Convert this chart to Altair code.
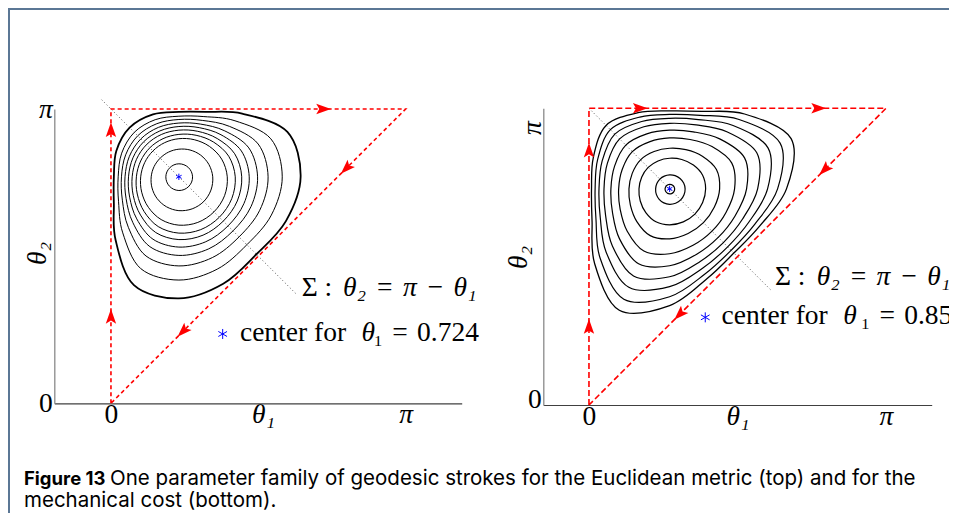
import math
import altair as alt
import pandas as pd

PI = math.pi

# Level curves are read as radii (radians) from the blue centre along 16 directions
# (0, 22.5, 45, ... 337.5 degrees, counter-clockwise from the +theta1 direction).
DIRS = [0, 22.5, 45, 67.5, 90, 112.5, 135, 157.5, 180, 202.5, 225, 247.5, 270, 292.5, 315, 337.5]

# ---------------- left panel (Euclidean metric) ----------------
L_center = (0.724, PI - 0.724)
L_c1 = [.146, .144, .142, .140, .139, .138, .137, .138, .139, .140, .142, .144, .146, .147, .147, .147]
L_c2 = [.361, .346, .328, .310, .295, .286, .282, .286, .295, .310, .328, .346, .361, .370, .374, .370]
L_c3 = [.516, .494, .460, .429, .407, .395, .391, .395, .407, .429, .460, .494, .516, .527, .529, .527]
L_c4 = [.601, .575, .524, .480, .453, .441, .438, .441, .453, .480, .524, .575, .601, .610, .610, .610]
L_c5 = [.670, .644, .578, .526, .498, .489, .487, .489, .498, .526, .578, .644, .670, .674, .669, .674]
L_c6 = [.750, .721, .635, .568, .537, .530, .530, .530, .537, .568, .635, .721, .750, .750, .741, .750]
L_c7 = [.839, .807, .693, .609, .574, .571, .573, .571, .574, .609, .693, .807, .839, .832, .816, .832]
L_c8 = [.951, .915, .762, .652, .612, .614, .620, .614, .612, .652, .762, .915, .951, .933, .907, .933]
L_c9 = [1.102, 1.061, .846, .696, .647, .660, .672, .660, .647, .696, .846, 1.061, 1.102, 1.067, 1.025, 1.067]
L_c10 = [1.298, 1.252, .954, .750, .693, .722, .743, .722, .693, .750, .954, 1.252, 1.298, 1.235, 1.169, 1.235]

# ---------------- right panel (mechanical cost) ----------------
R_center = (0.853, PI - 0.853)
R_c1 = [.053, .052, .050, .049, .048, .047, .047, .047, .048, .049, .050, .052, .053, .054, .054, .054]
R_c2 = [.164, .161, .156, .152, .148, .146, .146, .146, .148, .152, .156, .161, .164, .165, .166, .165]
R_c3 = [.381, .378, .356, .336, .324, .320, .321, .320, .324, .336, .356, .378, .381, .378, .378, .378]
R_c4 = [.529, .536, .490, .449, .430, .428, .435, .428, .430, .449, .490, .536, .529, .511, .506, .511]
R_c5 = [.687, .712, .634, .566, .539, .542, .558, .542, .539, .566, .634, .712, .687, .647, .634, .647]
R_c6 = [.814, .858, .749, .654, .621, .630, .655, .630, .621, .654, .749, .858, .814, .749, .727, .749]
R_c7 = [.931, .998, .856, .733, .694, .712, .748, .712, .694, .733, .856, .998, .931, .835, .804, .835]
R_c8 = [1.036, 1.128, .949, .794, .747, .772, .820, .772, .747, .794, .949, 1.128, 1.036, .910, .868, .910]
R_c9 = [1.142, 1.265, 1.039, .843, .788, .823, .886, .823, .788, .843, 1.039, 1.265, 1.142, .976, .920, .976]
R_c10 = [1.236, 1.391, 1.121, .888, .826, .873, .950, .873, .826, .888, 1.121, 1.391, 1.236, 1.030, .961, 1.030]

# boundary triangle (red dashed) and flow arrows
tri_x = [0, 0, PI, 0]
tri_y = [0, PI, PI, 0]
L_arrow_x = [0, 0, 2.253, 2.516, 0.775]
L_arrow_y = [0.915, 2.907, PI, 2.516, 0.775]
L_arrow_dir = [0, 0, 90, 225, 225]
R_arrow_x = [0, 0, 0.529, 2.416, 2.500, 0.967]
R_arrow_y = [0.819, 2.686, PI, PI, 2.500, 0.967]
R_arrow_dir = [0, 0, 90, 90, 225, 225]

# symmetry line Sigma
L_sigma_x = [-0.099, 1.98]
L_sigma_y = [PI + 0.099, PI - 1.98]
R_sigma_x = [0.0, 1.932]
R_sigma_y = [PI, PI - 1.932]

# annotations (text, x, y)
SP = "\u2004"
L_roman = [("Σ :", 2.033, 1.231), ("center for", 1.375, 0.750),
           ("₁" + SP + "=" + SP + "0.724", 2.80, 0.750)]
L_italic = [("θ₂" + SP + "=" + SP + "π" + SP + "−" + SP + "θ₁", 2.473, 1.231), ("θ", 2.672, 0.750)]
L_star_legend = (1.191, 0.740)
R_roman = [("Σ :", 1.967, 1.357), ("center for", 1.403, 0.941),
           ("₁" + SP + "=" + SP + "0.853", 2.875, 0.941), ("0", -0.645, 0.05)]
R_italic = [("θ₂" + SP + "=" + SP + "π" + SP + "−" + SP + "θ₁", 2.408, 1.357), ("θ", 2.690, 0.941)]
R_star_legend = (1.230, 0.928)

caption_bold = "Figure 13"
caption_rest = "One parameter family of geodesic strokes for the Euclidean metric (top) and for the"
caption_line2 = "mechanical cost (bottom)."

# ---------------- helpers ----------------
ARROW = "M0,-1L0.6,0.7L0,0.35L-0.6,0.7Z"
STAR = "M0,-1L0,1M-0.87,-0.5L0.87,0.5M-0.87,0.5L0.87,-0.5"
SERIF = "Liberation Serif"
FS = 27.5
CW, CH = 941, 505


def ring_df(center, rings):
    rows = []
    for cid, radii in enumerate(rings):
        for i, (a, r) in enumerate(zip(DIRS, radii)):
            t = math.radians(a)
            rows.append({"x": center[0] + r * math.cos(t), "y": center[1] + r * math.sin(t),
                         "cid": cid, "i": i})
    return pd.DataFrame(rows)


def path_df(xs, ys):
    return pd.DataFrame({"x": xs, "y": ys, "i": list(range(len(xs)))})


def text_df(items):
    return pd.DataFrame({"t": [a for a, _, _ in items], "x": [b for _, b, _ in items],
                         "y": [c for _, _, c in items]})


def panel(sx, sy, axx, axy, center, inner, outer, arrows_x, arrows_y, arrows_d, sig_x, sig_y,
          roman, italic, star_legend, dash, inner_w, outer_w):
    X = alt.X("x:Q", scale=sx, axis=axx)
    Y = alt.Y("y:Q", scale=sy, axis=axy)
    sigma = alt.Chart(path_df(sig_x, sig_y)).mark_line(
        color="#444444", strokeWidth=0.9, strokeDash=[1, 2.5]).encode(X, Y, order="i:Q")
    tri = alt.Chart(path_df(tri_x, tri_y)).mark_line(
        color="#ff0000", strokeWidth=1.6, strokeDash=dash).encode(X, Y, order="i:Q")
    cin = alt.Chart(ring_df(center, inner)).mark_line(
        color="black", strokeWidth=inner_w, interpolate="cardinal-closed").encode(
        X, Y, detail="cid:N", order="i:Q")
    cout = alt.Chart(ring_df(center, [outer])).mark_line(
        color="black", strokeWidth=outer_w, interpolate="cardinal-closed").encode(
        X, Y, detail="cid:N", order="i:Q")
    arr = alt.Chart(pd.DataFrame({"x": arrows_x, "y": arrows_y, "a": arrows_d})).mark_point(
        shape=ARROW, filled=True, color="#ff0000", size=300, opacity=1, strokeWidth=0).encode(
        X, Y, angle=alt.Angle("a:Q", scale=None))
    cen = alt.Chart(pd.DataFrame({"x": [center[0]], "y": [center[1]]})).mark_point(
        shape=STAR, filled=False, color="#0000ff", size=40, strokeWidth=1, opacity=1).encode(X, Y)
    leg = alt.Chart(pd.DataFrame({"x": [star_legend[0]], "y": [star_legend[1]]})).mark_point(
        shape=STAR, filled=False, color="#0000ff", size=100, strokeWidth=1, opacity=1).encode(X, Y)
    trom = alt.Chart(text_df(roman)).mark_text(
        align="left", baseline="middle", font=SERIF, fontSize=FS, color="black").encode(
        X, Y, text="t:N")
    tita = alt.Chart(text_df(italic)).mark_text(
        align="left", baseline="middle", font=SERIF, fontSize=FS, fontStyle="italic",
        color="black").encode(X, Y, text="t:N")
    return alt.layer(sigma, cin, cout, tri, arr, cen, leg, trom, tita)


label_style = dict(labelFont=SERIF, labelFontSize=FS, labelColor="black", ticks=False,
                   tickSize=0, grid=False, labelFlush=False, labelOverlap=False,
                   labelBound=False,
                   labelFontStyle={"condition": {"test": "datum.value > 0.5", "value": "italic"},
                                   "value": "normal"})
title_style = dict(titleFont=SERIF, titleFontSize=FS, titleFontStyle="italic",
                   titleFontWeight="normal", titleColor="black", titleAngle=270,
                   titleAlign="center", titleBaseline="middle")

# left panel scales / axes (pixel ranges inside the canvas)
sxL = alt.Scale(domain=[-0.604, 3.739], range=[46.3, 453.7], nice=False, zero=False)
syL = alt.Scale(domain=[0, PI], range=[395.3, 101], nice=False, zero=False)
axLX = alt.Axis(orient="bottom", offset=-(CH - 395.3), values=[0, 1.62, PI], title=None,
                labelExpr="datum.value < 0.5 ? '0' : (datum.value < 2 ? 'θ₁' : 'π')",
                labelPadding=-3, domainColor="#404040", domainWidth=1.2, **label_style)
axLY = alt.Axis(orient="left", offset=-46.3, values=[0, PI], title="θ₂",
                labelExpr="datum.value < 1 ? '0' : 'π'", labelPadding=2,
                domainColor="#8a8a8a", domainWidth=1.3,
                titleX=-16.8, titleY=245, **title_style, **label_style)

sxR = alt.Scale(domain=[-0.483, 3.625], range=[535.3, 923.7], nice=False, zero=False)
syR = alt.Scale(domain=[0, PI], range=[397, 100.3], nice=False, zero=False)
axRX = alt.Axis(orient="bottom", offset=-(CH - 397), values=[0, PI / 2, PI], title=None,
                labelExpr="datum.value < 0.5 ? '0' : (datum.value < 2 ? 'θ₁' : 'π')",
                labelPadding=-3, domainColor="#404040", domainWidth=1.2, **label_style)
axRY = alt.Axis(orient="left", offset=-535.3, values=[2.937], title="θ₂",
                labelExpr="'π'", labelPadding=-3,
                labelAngle=270, labelAlign="center", labelBaseline="bottom",
                domainColor="#8a8a8a", domainWidth=1.3,
                titleX=-25.3, titleY=249, **title_style, **label_style)

left = panel(sxL, syL, axLX, axLY, L_center,
             [L_c1, L_c2, L_c3, L_c4, L_c5, L_c6, L_c7, L_c8, L_c9], L_c10,
             L_arrow_x, L_arrow_y, L_arrow_dir, L_sigma_x, L_sigma_y,
             L_roman, L_italic, L_star_legend, [4, 3], 1.0, 1.8)

right = panel(sxR, syR, axRX, axRY, R_center,
              [R_c1, R_c2, R_c3, R_c4, R_c5, R_c6, R_c7, R_c8, R_c9], R_c10,
              R_arrow_x, R_arrow_y, R_arrow_dir, R_sigma_x, R_sigma_y,
              R_roman, R_italic, R_star_legend, [6, 3], 1.2, 1.3)

# caption and the page frame (top and left edges, as in the reference)
CAPF = "Inter"
one = pd.DataFrame({"t": [caption_bold]})
cap_bold = alt.Chart(one).mark_text(align="left", baseline="alphabetic", font=CAPF,
                                    fontSize=18.5, fontWeight="bold", color="black").encode(
    x=alt.value(16), y=alt.value(477), text="t:N")
cap_rest = alt.Chart(pd.DataFrame({"t": [caption_rest]})).mark_text(
    align="left", baseline="alphabetic", font=CAPF, fontSize=20.5, color="black").encode(
    x=alt.value(102), y=alt.value(477), text="t:N")
cap_2 = alt.Chart(pd.DataFrame({"t": [caption_line2]})).mark_text(
    align="left", baseline="alphabetic", font=CAPF, fontSize=20.5, color="black").encode(
    x=alt.value(16), y=alt.value(499), text="t:N")
frame_top = alt.Chart(one).mark_rule(color="#5b7795", strokeWidth=2).encode(
    x=alt.value(0), x2=alt.value(CW), y=alt.value(1))
frame_left = alt.Chart(one).mark_rule(color="#5b7795", strokeWidth=2).encode(
    x=alt.value(1), y=alt.value(0), y2=alt.value(CH))
deco = alt.layer(frame_top, frame_left, cap_bold, cap_rest, cap_2)

chart = alt.layer(left, right, deco).resolve_scale(
    x="independent", y="independent").properties(
    width=CW, height=CH, padding=0,
    autosize=alt.AutoSizeParams(type="none")).configure_view(
    stroke="transparent", strokeWidth=0, strokeOpacity=0).configure(background="white")

chart.save("out.html", embed_options={"renderer": "svg", "actions": False})
